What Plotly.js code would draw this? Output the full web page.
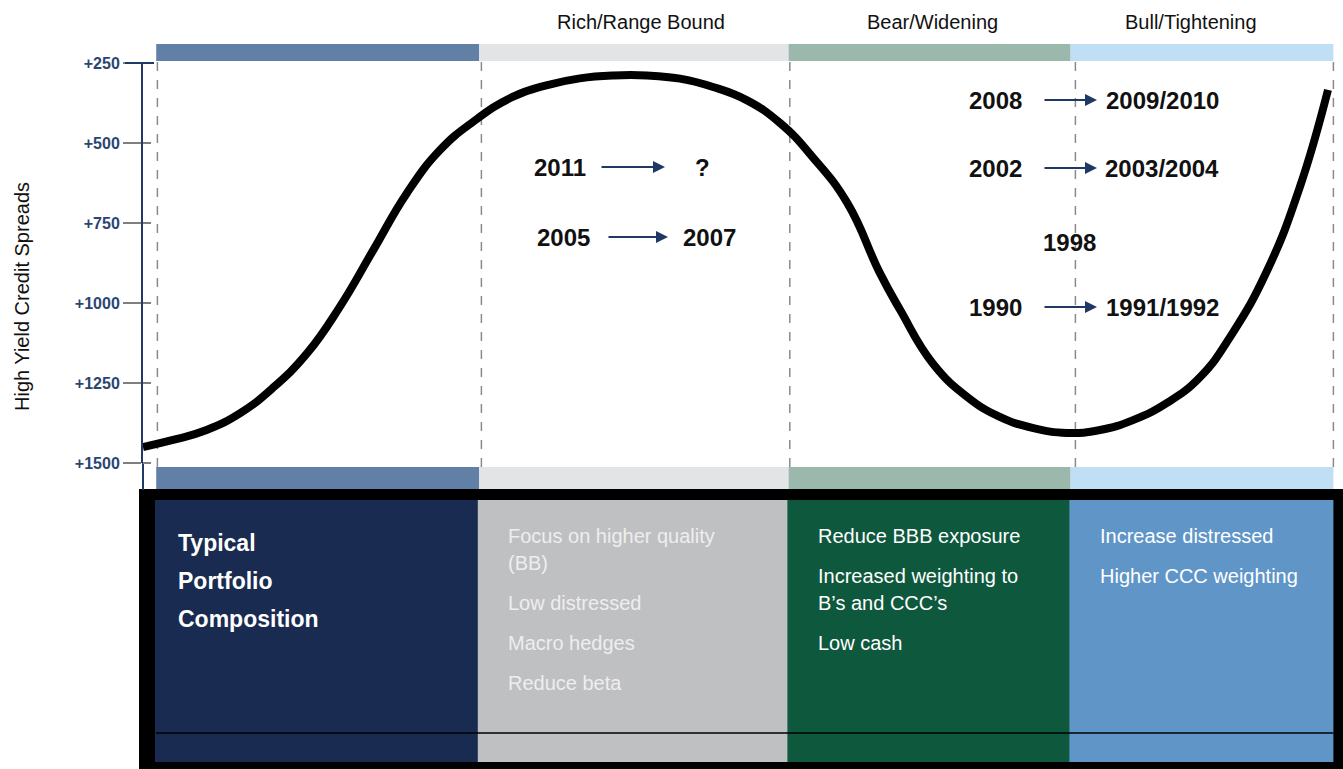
<!DOCTYPE html>
<html>
<head>
<meta charset="utf-8">
<script src="https://cdn.plot.ly/plotly-3.0.1.min.js"></script>
<style>
  html, body { margin: 0; padding: 0; background: #ffffff; }
  #chart { width: 1343px; height: 769px; }
</style>
</head>
<body>
<div id="chart"></div>
<script>
// credit cycle curve, x = position in the cycle (0..100), y = spread in bp
var cycleX = [0, 2.5, 5.3, 8.1, 10.8, 13.7, 16.4, 19.2, 22, 24.75, 27.5, 30.8, 33.7, 36.4, 39.2, 42,
  44.75, 47.5, 50.3, 53.1, 55.8, 58.7, 61.4, 63.1, 65.8, 68.7, 71.4, 74.2, 77, 79.75, 82.5, 85.3,
  88.1, 90.8, 93.7, 96.4, 98.75];
var cycleSpread = [1450, 1428, 1397, 1344, 1266, 1156, 1012, 834, 656, 522, 434, 356, 319, 298, 289, 289,
  299, 325, 366, 438, 544, 688, 906, 1022, 1188, 1294, 1356, 1391, 1406, 1397, 1366, 1313,
  1231, 1094, 897, 638, 334];

var spreadTicks = [250, 500, 750, 1000, 1250, 1500];
var spreadTickText = ["+250", "+500", "+750", "+1000", "+1250", "+1500"];

var phaseNames = ["", "Rich/Range Bound", "Bear/Widening", "Bull/Tightening"];
var phaseEdges = [1.1, 28.0, 53.8, 77.3, 99.2];
var dividers = [1.2, 28.2, 53.9, 77.7, 99.2];
var barColors = ["#627fa6", "#e3e4e6", "#9bb8ad", "#c1dff4"];
var panelColors = ["#192b50", "#bfc0c2", "#0e583d", "#6095c8"];
var panelTextColors = ["#ffffff", "#eeeeee", "#ffffff", "#ffffff"];

var portfolioTitle = ["Typical", "Portfolio", "Composition"];
var panelItems = [
  [],
  [["Focus on higher quality", "(BB)"], ["Low distressed"], ["Macro hedges"], ["Reduce beta"]],
  [["Reduce BBB exposure"], ["Increased weighting to", "B\u2019s and CCC\u2019s"], ["Low cash"]],
  [["Increase distressed"], ["Higher CCC weighting"]]
];

var fromYears = ["2011", "2005", "2008", "2002", "1990"];
var toYears = ["?", "2007", "2009/2010", "2003/2004", "1991/1992"];
var loneYear = "1998";

// layout helpers (page pixels -> paper)
var L = 143, T = 63, W = 1200, H = 400;
function fx(p) { return (p - L) / W; }
function fy(p) { return (T + H - p) / H; }

var font = '"Liberation Sans", Arial, sans-serif';

var shapes = [];
var annotations = [];

// black frame under the panels
shapes.push({ type: "rect", xref: "paper", yref: "paper", x0: fx(139), x1: fx(1343), y0: fy(489), y1: fy(769),
  fillcolor: "#000000", line: { width: 0 }, layer: "below" });

var headerShift = [0, 0.006, 0.002, -0.009];
for (var i = 0; i < 4; i++) {
  var a = phaseEdges[i] / 100, b = phaseEdges[i + 1] / 100;
  shapes.push({ type: "rect", xref: "paper", yref: "paper", x0: a, x1: b, y0: fy(61), y1: fy(44),
    fillcolor: barColors[i], line: { width: 0 }, layer: "below" });
  shapes.push({ type: "rect", xref: "paper", yref: "paper", x0: a, x1: b, y0: fy(489), y1: fy(467),
    fillcolor: barColors[i], line: { width: 0 }, layer: "below" });
  shapes.push({ type: "rect", xref: "paper", yref: "paper", x0: a - 0.001, x1: b, y0: fy(762), y1: fy(500),
    fillcolor: panelColors[i], line: { width: 0 }, layer: "below" });
  if (phaseNames[i]) {
    annotations.push({ xref: "paper", yref: "paper", x: (a + b) / 2 + headerShift[i], y: fy(22),
      text: phaseNames[i], showarrow: false, xanchor: "center", yanchor: "middle",
      font: { family: font, size: 20, color: "#111111" } });
  }
}
shapes.push({ type: "line", xref: "paper", yref: "paper", x0: phaseEdges[0] / 100, x1: phaseEdges[4] / 100,
  y0: fy(733), y1: fy(733), line: { color: "#000000", width: 1.5 }, layer: "below" });

dividers.forEach(function (d) {
  shapes.push({ type: "line", xref: "paper", yref: "paper", x0: d / 100, x1: d / 100, y0: fy(467), y1: fy(61),
    line: { color: "#8a8a8a", width: 1.5, dash: "dash" }, layer: "below" });
});

// axis extension and tick stubs right of the axis
shapes.push({ type: "line", xref: "paper", yref: "paper", x0: 0, x1: 0, y0: fy(490), y1: 0,
  line: { color: "#1f3a64", width: 2 } });
spreadTicks.forEach(function (v, k) {
  var yy = (1500 - v) / 1250;
  shapes.push({ type: "line", xref: "paper", yref: "paper", x0: fx(k === 0 ? 125 : 143), x1: fx(k === 0 ? 154 : 151),
    y0: yy, y1: yy, line: { color: k === 0 ? "#1f3a64" : "#7f7f7f", width: 2 } });
});

annotations.push({ xref: "paper", yref: "paper", x: fx(22), y: fy(297), text: "High Yield Credit Spreads",
  textangle: -90, showarrow: false, xanchor: "center", yanchor: "middle",
  font: { family: font, size: 20, color: "#111111" } });

// panel texts
portfolioTitle.forEach(function (t, k) {
  annotations.push({ xref: "paper", yref: "paper", x: fx(176), y: fy(543 + k * 38), text: "<b>" + t + "</b>",
    showarrow: false, xanchor: "left", yanchor: "middle",
    font: { family: font, size: 23, color: "#ffffff" } });
});
for (var p = 1; p < 4; p++) {
  var lineY = 536;
  panelItems[p].forEach(function (item) {
    item.forEach(function (line, j) {
      annotations.push({ xref: "paper", yref: "paper", x: phaseEdges[p] / 100 + fx(170), y: fy(lineY + j * 27),
        text: line, showarrow: false, xanchor: "left", yanchor: "middle",
        font: { family: font, size: 20, color: panelTextColors[p] } });
    });
    lineY += item.length * 27 + 13;
  });
}

// years with arrows
var fromPx = [560, 563, 995, 995, 995];
var tailPx = [600, 607, 1043, 1043, 1043];
var headPx = [665, 668, 1097, 1097, 1097];
var toPx = [702, 709, 1162, 1162, 1162];
var rowPy = [167, 237, 100, 168, 307];
var yearFont = { family: font, size: 24, color: "#111111", weight: "bold" };
for (var r = 0; r < fromYears.length; r++) {
  annotations.push({ xref: "paper", yref: "paper", x: fx(fromPx[r]), y: fy(rowPy[r]), text: fromYears[r],
    showarrow: false, xanchor: "center", yanchor: "middle", font: yearFont });
  annotations.push({ xref: "paper", yref: "paper", x: fx(toPx[r]), y: fy(rowPy[r]), text: toYears[r],
    showarrow: false, xanchor: "center", yanchor: "middle", font: yearFont });
  annotations.push({ xref: "paper", yref: "paper", x: fx(headPx[r]), y: fy(rowPy[r]), text: "",
    showarrow: true, arrowhead: 2, arrowsize: 1.2, arrowwidth: 2, arrowcolor: "#1f3864",
    ax: tailPx[r] - headPx[r], ay: 0, standoff: 0 });
}
annotations.push({ xref: "paper", yref: "paper", x: fx(1069), y: fy(243), text: loneYear,
  showarrow: false, xanchor: "center", yanchor: "middle", font: yearFont });

var trace = {
  x: cycleX,
  y: cycleSpread,
  mode: "lines",
  line: { color: "#000000", width: 8, shape: "spline", smoothing: 1.3 },
  hoverinfo: "skip",
  cliponaxis: false
};

var layout = {
  width: 1343,
  height: 769,
  margin: { l: L, r: 1343 - L - W, t: T, b: 769 - T - H },
  paper_bgcolor: "#ffffff",
  plot_bgcolor: "rgba(0,0,0,0)",
  showlegend: false,
  xaxis: { range: [0, 100], visible: false, fixedrange: true },
  yaxis: {
    range: [1500, 250],
    tickvals: spreadTicks,
    ticktext: spreadTickText,
    ticks: "outside",
    ticklen: 18,
    tickwidth: 2,
    tickcolor: "#7f7f7f",
    showline: true,
    linecolor: "#1f3a64",
    linewidth: 2,
    showgrid: false,
    zeroline: false,
    fixedrange: true,
    tickfont: { family: font, size: 16, color: "#2a4574", weight: "bold" }
  },
  shapes: shapes,
  annotations: annotations
};

Plotly.newPlot("chart", [trace], layout, { displayModeBar: false, staticPlot: true });
</script>
</body>
</html>
